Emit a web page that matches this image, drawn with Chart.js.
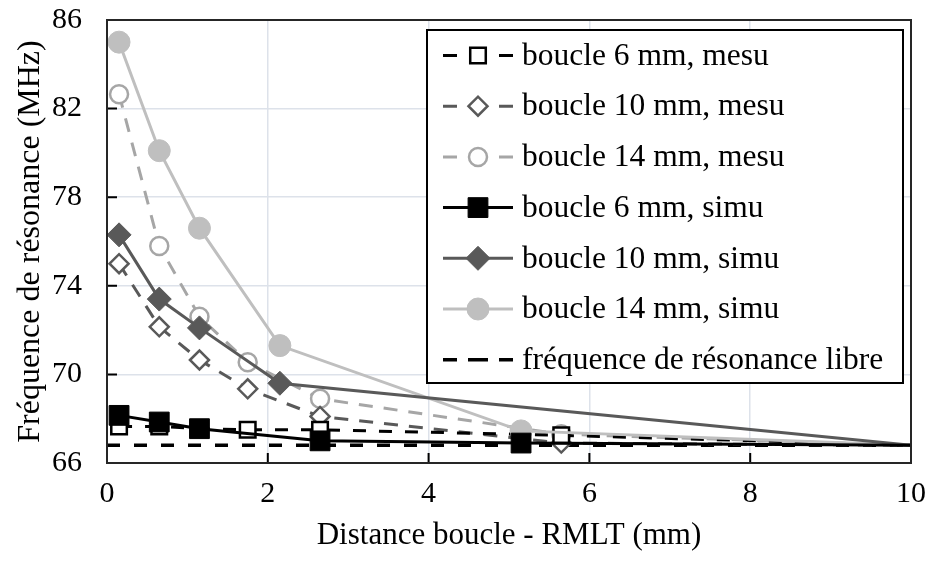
<!DOCTYPE html>
<html>
<head>
<meta charset="utf-8">
<script src="https://cdn.jsdelivr.net/npm/chart.js@4.4.1/dist/chart.umd.min.js"></script>
<style>
    html, body { margin: 0; padding: 0; background: #fff; }
    #wrap { width: 930px; height: 562px; }
</style>
</head>
<body>
<div id="wrap"><canvas id="chart" width="930" height="562"></canvas></div>
<script>
// Values
const xTickValues = [0, 2, 4, 6, 8, 10];
const yTickValues = [66, 70, 74, 78, 82, 86];

const mesu6X = [0.15, 0.65, 1.15, 1.75, 2.65, 5.65, 10];
const mesu6Y = [67.65, 67.65, 67.55, 67.5, 67.5, 67.25, 66.8];

const mesu10X = [0.15, 0.65, 1.15, 1.75, 2.65, 5.65, 10];
const mesu10Y = [75.0, 72.15, 70.65, 69.35, 68.1, 66.9, 66.8];

const mesu14X = [0.15, 0.65, 1.15, 1.75, 2.65, 5.65, 10];
const mesu14Y = [82.65, 75.8, 72.6, 70.55, 68.9, 67.3, 66.8];

const simu6X = [0.15, 0.65, 1.15, 2.65, 5.15, 10];
const simu6Y = [68.15, 67.85, 67.55, 67.0, 66.9, 66.8];

const simu10X = [0.15, 0.65, 1.15, 2.15, 10];
const simu10Y = [76.3, 73.4, 72.1, 69.6, 66.8];

const simu14X = [0.15, 0.65, 1.15, 2.15, 5.15, 10];
const simu14Y = [85.0, 80.1, 76.6, 71.3, 67.45, 66.8];

const libreX = [0, 10];
const libreY = [66.8, 66.8];

const labels = [
    'boucle 6 mm, mesu',
    'boucle 10 mm, mesu',
    'boucle 14 mm, mesu',
    'boucle 6 mm, simu',
    'boucle 10 mm, simu',
    'boucle 14 mm, simu',
    'fréquence de résonance libre'
];

const SERIF = '"Liberation Serif", "Times New Roman", serif';

function toPoints(xs, ys) {
    return xs.map((x, i) => ({ x: x, y: ys[i] }));
}

// no marker on the end point at x = 10
function radii(xs, r) {
    return xs.map(x => x >= 10 ? 0 : r);
}

function series(label, xs, ys, color, opts) {
    return Object.assign({
        label: label,
        data: toPoints(xs, ys),
        showLine: true,
        borderColor: color,
        borderWidth: 3,
        pointBorderColor: color,
        pointBackgroundColor: color,
        pointHoverRadius: 0,
        tension: 0
    }, opts, { pointRadius: radii(xs, opts.markerSize || 0) });
}

const datasets = [
    series(labels[0], mesu6X, mesu6Y, '#000000', { borderDash: [13, 13], pointStyle: 'rect', markerSize: 11, pointBackgroundColor: '#ffffff', pointBorderWidth: 2.5, order: 1 }),
    series(labels[1], mesu10X, mesu10Y, '#595959', { borderDash: [14, 11], pointStyle: 'rectRot', markerSize: 9.5, pointBackgroundColor: '#ffffff', pointBorderWidth: 2.5, order: 1 }),
    series(labels[2], mesu14X, mesu14Y, '#a6a6a6', { borderDash: [14, 11], pointStyle: 'circle', markerSize: 9, pointBackgroundColor: '#ffffff', pointBorderWidth: 2.5, order: 1 }),
    series(labels[3], simu6X, simu6Y, '#000000', { pointStyle: 'rect', markerSize: 14, pointBorderWidth: 1, order: 0 }),
    series(labels[4], simu10X, simu10Y, '#595959', { pointStyle: 'rectRot', markerSize: 12, pointBorderWidth: 1, order: 0 }),
    series(labels[5], simu14X, simu14Y, '#bfbfbf', { pointStyle: 'circle', markerSize: 11, pointBorderWidth: 1, order: 0 }),
    series(labels[6], libreX, libreY, '#000000', { borderDash: [13, 14], borderWidth: 3.5, pointStyle: 'circle', markerSize: 0, order: 2 })
];

function drawMarker(ctx, style, x, y, r, fill, stroke, bw) {
    if (!r) return;
    ctx.save();
    ctx.setLineDash([]);
    ctx.beginPath();
    if (style === 'circle') {
        ctx.arc(x, y, r, 0, Math.PI * 2);
    } else if (style === 'rect') {
        const s = r * Math.SQRT1_2;
        ctx.rect(x - s, y - s, 2 * s, 2 * s);
    } else {
        ctx.moveTo(x - r, y);
        ctx.lineTo(x, y - r);
        ctx.lineTo(x + r, y);
        ctx.lineTo(x, y + r);
        ctx.closePath();
    }
    ctx.fillStyle = fill;
    ctx.fill();
    if (bw) {
        ctx.lineWidth = bw;
        ctx.strokeStyle = stroke;
        ctx.stroke();
    }
    ctx.restore();
}

// Plot frame and inward tick marks
const frame = {
    id: 'frame',
    afterDatasetsDraw(chart) {
        const ctx = chart.ctx;
        const a = chart.chartArea;
        const xs = chart.scales.x, ys = chart.scales.y;
        ctx.save();
        ctx.strokeStyle = '#000';
        ctx.lineWidth = 2;
        ctx.setLineDash([]);
        ctx.beginPath();
        xTickValues.forEach(v => {
            const px = xs.getPixelForValue(v);
            ctx.moveTo(px, a.bottom);
            ctx.lineTo(px, a.bottom - 10);
        });
        yTickValues.forEach(v => {
            const py = ys.getPixelForValue(v);
            ctx.moveTo(a.left, py);
            ctx.lineTo(a.left + 10, py);
        });
        ctx.stroke();
        ctx.strokeStyle = '#262626';
        ctx.strokeRect(a.left, a.top, a.right - a.left, a.bottom - a.top);
        ctx.restore();
    }
};

// Boxed legend inside the plot, line + marker like the original
const boxLegend = {
    id: 'boxLegend',
    afterDraw(chart) {
        const ctx = chart.ctx;
        const a = chart.chartArea;
        const left = a.right - 484, top = a.top + 10, w = 476, h = 353;
        ctx.save();
        ctx.fillStyle = '#fff';
        ctx.fillRect(left, top, w, h);
        ctx.strokeStyle = '#000';
        ctx.lineWidth = 2;
        ctx.strokeRect(left, top, w, h);

        ctx.font = '31.5px ' + SERIF;
        ctx.textBaseline = 'middle';
        ctx.textAlign = 'left';

        chart.data.datasets.forEach((ds, i) => {
            const y = top + 25.5 + i * 50.7;
            const x0 = left + 16, x1 = left + 86, xm = left + 51;
            ctx.strokeStyle = ds.borderColor;
            ctx.lineWidth = ds.borderWidth;
            ctx.setLineDash([]);
            ctx.beginPath();
            if (i === 6) {
                ctx.moveTo(x0, y); ctx.lineTo(x0 + 14, y);
                ctx.moveTo(x0 + 25, y); ctx.lineTo(x0 + 45, y);
                ctx.moveTo(x1 - 14, y); ctx.lineTo(x1, y);
            } else if (ds.borderDash) {
                ctx.moveTo(x0, y); ctx.lineTo(x0 + 14, y);
                ctx.moveTo(x1 - 14, y); ctx.lineTo(x1, y);
            } else {
                ctx.moveTo(x0, y); ctx.lineTo(x1, y);
            }
            ctx.stroke();
            drawMarker(ctx, ds.pointStyle, xm, y, ds.pointRadius[0],
                ds.pointBackgroundColor, ds.pointBorderColor, ds.pointBorderWidth);
            ctx.fillStyle = '#000';
            ctx.fillText(ds.label, left + 95, y + 1);
        });
        ctx.restore();
    }
};

// keep the plot area fixed: no extra room for edge tick labels
function noEdgePadding(s) {
    s.paddingTop = 0;
    s.paddingBottom = 0;
    s.paddingLeft = 0;
    s.paddingRight = 0;
}

Chart.defaults.font.family = SERIF;
Chart.defaults.color = '#000';

new Chart(document.getElementById('chart'), {
    type: 'scatter',
    data: { datasets: datasets },
    options: {
        responsive: false,
        animation: false,
        devicePixelRatio: 1,
        layout: { padding: { top: 20, right: 19, left: 0, bottom: 0 } },
        plugins: {
            legend: { display: false },
            tooltip: { enabled: false }
        },
        scales: {
            x: {
                type: 'linear',
                min: 0,
                max: 10,
                afterBuildTicks: s => { s.ticks = xTickValues.map(v => ({ value: v })); },
                afterFit: s => { s.height = 99; noEdgePadding(s); },
                grid: { color: '#dde2ea', lineWidth: 1.5, drawTicks: false },
                border: { display: false },
                ticks: { font: { size: 30 }, padding: 13, maxRotation: 0 },
                title: {
                    display: true,
                    text: 'Distance boucle - RMLT (mm)',
                    font: { size: 31 },
                    padding: { top: 0, bottom: 8 }
                }
            },
            y: {
                type: 'linear',
                min: 66,
                max: 86,
                afterBuildTicks: s => { s.ticks = yTickValues.map(v => ({ value: v })); },
                afterFit: s => { s.width = 107; noEdgePadding(s); },
                grid: { color: '#dde2ea', lineWidth: 1.5, drawTicks: false },
                border: { display: false },
                ticks: { font: { size: 30 }, padding: 25 },
                title: {
                    display: true,
                    text: 'Fréquence de résonance (MHz)',
                    font: { size: 32 },
                    padding: { top: 11, bottom: 0 }
                }
            }
        }
    },
    plugins: [frame, boxLegend]
});
</script>
</body>
</html>
